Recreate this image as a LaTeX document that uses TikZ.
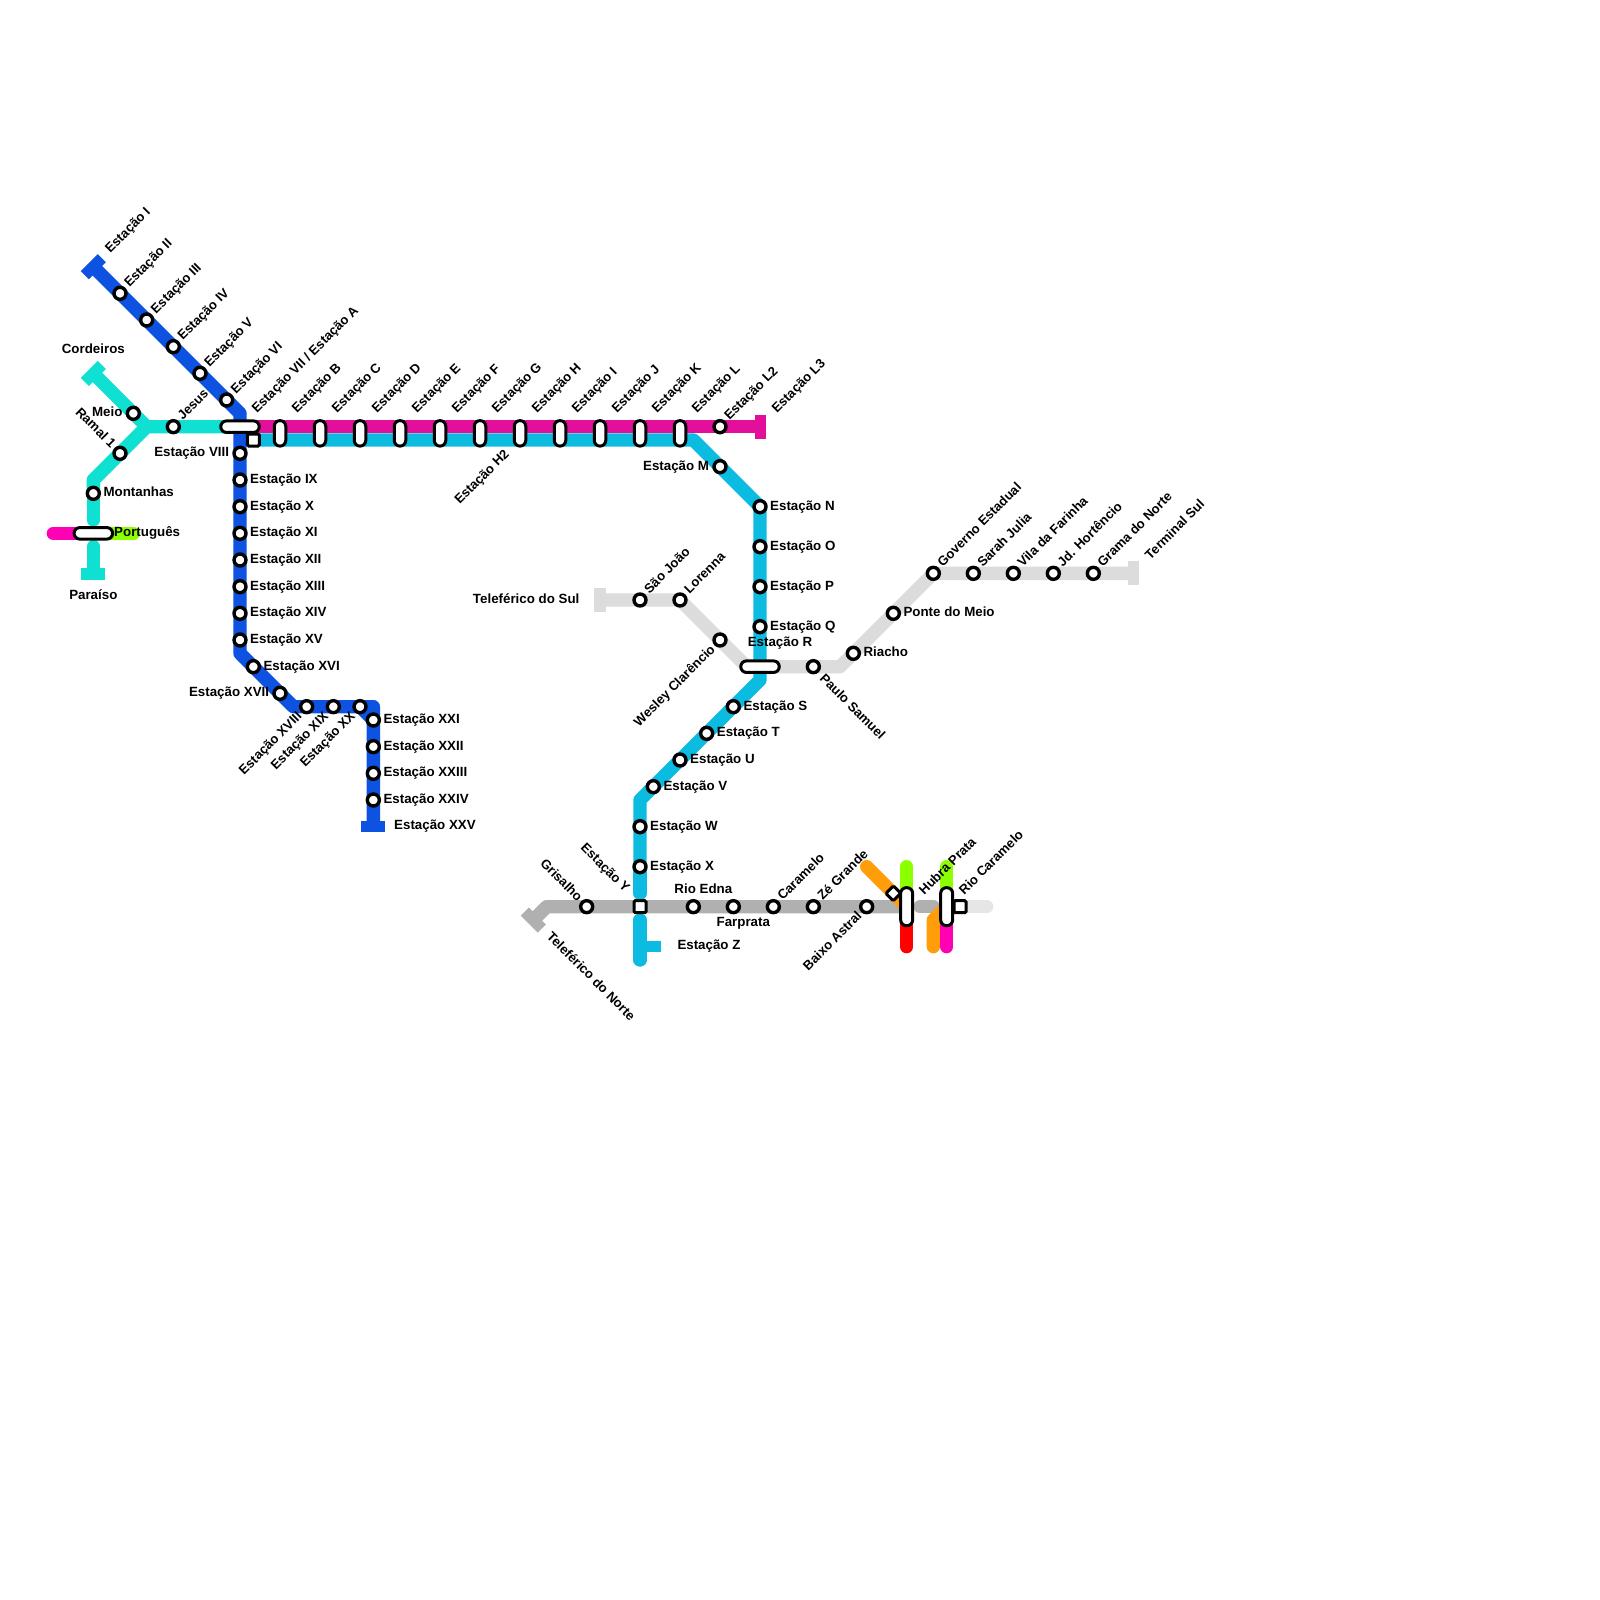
\documentclass[tikz,border=0pt]{standalone}
\usepackage{fontspec}
\setmainfont{Liberation Sans}
\definecolor{cblue}{HTML}{0D52E0}
\definecolor{cteal}{HTML}{0FE0D2}
\definecolor{cmag}{HTML}{E30F9B}
\definecolor{ccyan}{HTML}{0CBCE0}
\definecolor{cgray}{HTML}{DCDCDC}
\definecolor{cdgray}{HTML}{B0B0B0}
\definecolor{clgray}{HTML}{E6E6E6}
\definecolor{corange}{HTML}{FF9E0A}
\definecolor{cgreen}{HTML}{8CFF00}
\definecolor{cpink}{HTML}{FF00B4}
\tikzset{
 route/.style={line width=13.333pt,line join=round,line cap=butt},
 rroute/.style={route,line cap=round},
 term/.style={line width=11.5pt,line cap=butt},
 stn/.style={circle,draw=black,fill=white,line width=3.4pt,minimum size=12pt,inner sep=0pt},
 sqr/.style={rectangle,draw=black,fill=white,line width=3pt,minimum size=12pt,inner sep=0pt,rounded corners=1.3pt},
 dmd/.style={sqr,minimum size=10.5pt,rotate=45},
 hpill/.style={rectangle,draw=black,fill=white,line width=3pt,minimum width=38.5pt,minimum height=11.5pt,inner sep=0pt,rounded corners=5.7pt},
 vpill/.style={rectangle,draw=black,fill=white,line width=3pt,minimum width=11.5pt,minimum height=25.5pt,inner sep=0pt,rounded corners=5.7pt},
 tpill/.style={vpill,minimum width=12pt,minimum height=38pt},
 lbl/.style={font=\bfseries\fontsize{13.33}{15}\selectfont,text=black,inner sep=0pt,text height=9.6pt,text depth=0pt},
 rlbl/.style={lbl,font=\bfseries\fontsize{13.1}{15}\selectfont},
 lr/.style={lbl,shift={(10pt,1.3pt)},anchor=west},
 ll/.style={lbl,shift={(-10.7pt,1.3pt)},anchor=east},
 ne/.style={rlbl,shift={(6pt,9pt)},rotate=45,anchor=west},
 nefar/.style={rlbl,shift={(13.5pt,16.5pt)},rotate=45,anchor=west},
 sw/.style={rlbl,shift={(-7.5pt,-7pt)},rotate=45,anchor=east},
 nw/.style={rlbl,shift={(-6pt,8pt)},rotate=-45,anchor=east},
 se/.style={rlbl,shift={(9pt,-9pt)},rotate=-45,anchor=west},
}
\begin{document}
\begin{tikzpicture}[x=13.3333pt,y=-13.3333pt]
\useasboundingbox (0,0) rectangle (120,120);
\fill[white] (0,0) rectangle (120,120);
% named points
\foreach \n/\x/\y in {bT/7/20,b2/9/22,b3/11/24,b4/13/26,b5/15/28,b6/17/30,bc/18/31,hub/18/32,
 b8/18/34,b9/18/36,b10/18/38,b11/18/40,b12/18/42,b13/18/44,b14/18/46,b15/18/48,bd/18/49,
 b16/19/50,b17/21/52,be/22/53,b18/23/53,b19/25/53,b20/27/53,bf/28/53,b21/28/54,b22/28/56,b23/28/58,b24/28/60,bE/28/62,
 tT/7/28,tM/10/31,tJ/11/32,tS/13/32,tR/9/34,tc/7/36,tN/7/37,tA/7/39,port/7/40,tD/7/41,tH/7/42,tB/7/43,
 pL/4/40,gL/10/40,
 mE/57/32,mL/54/32,sqA/19/33,
 cA/52/33,cM/54/35,cN/57/38,cO/57/41,cP/57/44,cQ/57/47,hubR/57/50,cB/57/51,cS/55/53,cT/53/55,cU/51/57,cV/49/59,cC/48/60,cW/48/62,cX/48/65,cD/48/67,
 cE/48/69,cZ/48/71,cF/48/72,cG/49.57/71,
 gT/45/45,gJ/48/45,gLo/51/45,gW/54/48,gd/56/50,gP/61/50,gc/63/50,gRi/64/49,gPo/67/46,gGo/70/43,gSa/73/43,gVi/76/43,gJd/79/43,gGr/82/43,gE/85/43,
 dT/40/69,dc/41/68,dG/44/68,sqY/48/68,dE/52/68,dF/55/68,dC/58/68,dZ/61/68,dB/65/68,hubH/68/68,dm/69/68,dn/70/68,hubC/71/68,sqC/72/68,dq/74/68,
 oT/65/65,dia/67/67,oB/70/71,oc/70/69,
 gA/68/65,rA/68/71,gB/71/65,mB/71/71}
 {\coordinate (\n) at (\x,\y);}
\foreach \n/\x in {p21/21,p24/24,p27/27,p30/30,p33/33,p36/36,p39/39,p42/42,p45/45,p48/48,p51/51}
 {\coordinate (\n) at (\x,32.5);}
\coordinate (h2) at (39,33);
% routes
\draw[route,color=cgray] (gT)--(gJ)--(gLo)--(gW)--(gd)--(hubR)--(gP)--(gc)--(gRi)--(gPo)--(gGo)--(gSa)--(gVi)--(gJd)--(gGr)--(gE);
\draw[term,color=cgray] ([shift={(0pt,12pt)}]gT)--([shift={(0pt,-12pt)}]gT);
\draw[term,color=cgray] ([shift={(0pt,12pt)}]gE)--([shift={(0pt,-12pt)}]gE);
\draw[rroute,color=cpink] (pL)--(port);
\draw[rroute,color=cgreen] (gL)--(port);
\draw[route,color=cteal] (tT)--(tM)--(tJ)--(tS)--(hub);
\draw[route,color=cteal] (tJ)--(tR)--(tc)--(tN);
\draw[rroute,color=cteal] (tc)--(tA);
\draw[rroute,color=cteal] (tD)--(tH);
\draw[route,color=cteal] (tH)--(tB);
\draw[term,color=cteal] ([shift={(8.5pt,8.5pt)}]tT)--([shift={(-8.5pt,-8.5pt)}]tT);
\draw[term,color=cteal] ([shift={(12pt,-0.7pt)}]tB)--([shift={(-12pt,-0.7pt)}]tB);
\draw[route,color=cmag] (hub)--(mL)--(mE);
\draw[term,color=cmag] ([shift={(0.7pt,12pt)}]mE)--([shift={(0.7pt,-12pt)}]mE);
\draw[route,color=ccyan] (sqA)--(cA)--(cM)--(cN)--(cO)--(cP)--(cQ)--(hubR)--(cB)--(cS)--(cT)--(cU)--(cV)--(cC)--(cW)--(cX)--(cD);
\draw[rroute,color=ccyan] (cX)--(cD);
\draw[rroute,color=ccyan] (cE)--(cF);
\draw[term,color=ccyan] (cZ)--(cG);
\draw[route,color=cblue] (bT)--(b2)--(b3)--(b4)--(b5)--(b6)--(bc)--(hub)--(b8)--(b9)--(b10)--(b11)--(b12)--(b13)--(b14)--(b15)--(bd)--(b16)--(b17)--(be)--(bf)--(b21)--(b22)--(b23)--(b24)--(bE);
\draw[route,color=cblue] (b20)--(b21);
\draw[term,color=cblue] ([shift={(8.5pt,8.5pt)}]bT)--([shift={(-8.5pt,-8.5pt)}]bT);
\draw[term,color=cblue] ([shift={(12pt,0pt)}]bE)--([shift={(-12pt,0pt)}]bE);
\draw[route,color=cdgray] (dT)--(dc)--(dG)--(sqY)--(dE)--(dF)--(dC)--(dZ)--(dB)--(hubH);
\draw[term,color=cdgray] ([shift={(8.5pt,-8.5pt)}]dT)--([shift={(-8.5pt,8.5pt)}]dT);
\draw[rroute,color=cdgray] (dm)--(dn);
\draw[rroute,color=clgray] (hubC)--(dq);
\draw[rroute,color=corange] (oT)--(hubH);
\draw[rroute,color=corange] (oB)--(oc)--(hubC);
\draw[rroute,color=cgreen] (gA)--(hubH);
\draw[rroute,color=red] (rA)--(hubH);
\draw[rroute,color=cgreen] (gB)--(hubC);
\draw[rroute,color=cpink] (mB)--(hubC);
% interchanges
\node[hpill] (Port) at (port) {};
\node[hpill] (Hub) at (hub) {};
\node[sqr] (SqA) at (sqA) {};
\foreach \n in {p21,p24,p27,p30,p33,p36,p39,p42,p45,p48,p51} {\node[vpill] (N\n) at (\n) {};}
\node[hpill] (HubR) at (hubR) {};
\node[sqr] (SqY) at (sqY) {};
\node[dmd] (Dia) at (dia) {};
\node[sqr] (SqC) at (sqC) {};
\node[tpill] (HubH) at (hubH) {};
\node[tpill] (HubC) at (hubC) {};
% stations
\foreach \n in {b2,b3,b4,b5,b6,b8,b9,b10,b11,b12,b13,b14,b15,b16,b17,b18,b19,b20,b21,b22,b23,b24,
 tM,tS,tR,tN,mL,cM,cN,cO,cP,cQ,cS,cT,cU,cV,cW,cX,
 gJ,gLo,gW,gP,gRi,gPo,gGo,gSa,gVi,gJd,gGr,dG,dE,dF,dC,dZ,dB} {\node[stn] (N\n) at (\n) {};}
% labels
\node[nefar] (l1) at (bT) {Estação I};
\node[ne] (l2) at (b2) {Estação II};
\node[ne] (l3) at (b3) {Estação III};
\node[ne] (l4) at (b4) {Estação IV};
\node[ne] (l5) at (b5) {Estação V};
\node[ne] (l6) at (b6) {Estação VI};
\node[nefar] (l7) at (hub) {Estação VII / Estação A};
\node[ll] (l8) at (b8) {Estação VIII};
\node[lr] (l9) at (b9) {Estação IX};
\node[lr] (l10) at (b10) {Estação X};
\node[lr] (l11) at (b11) {Estação XI};
\node[lr] (l12) at (b12) {Estação XII};
\node[lr] (l13) at (b13) {Estação XIII};
\node[lr] (l14) at (b14) {Estação XIV};
\node[lr] (l15) at (b15) {Estação XV};
\node[lr] (l16) at (b16) {Estação XVI};
\node[ll] (l17) at (b17) {Estação XVII};
\node[sw] (l18) at (b18) {Estação XVIII};
\node[sw] (l19) at (b19) {Estação XIX};
\node[sw] (l20) at (b20) {Estação XX};
\node[lr] (l21) at (b21) {Estação XXI};
\node[lr] (l22) at (b22) {Estação XXII};
\node[lr] (l23) at (b23) {Estação XXIII};
\node[lr] (l24) at (b24) {Estação XXIV};
\node[lbl,shift={(20.7pt,1.7pt)},anchor=west] (l25) at (bE) {Estação XXV};
\node[lbl,shift={(0pt,25pt)}] (lCo) at (tT) {Cordeiros};
\node[ll] (lMe) at (tM) {Meio};
\node[ne] (lJe) at (tS) {Jesus};
\node[nw] (lRa) at (tR) {Ramal 1};
\node[lr] (lMo) at (tN) {Montanhas};
\node[lbl,shift={(20.7pt,1.7pt)},anchor=west] (lPo) at (port) {Português};
\node[lbl,shift={(0pt,-21.7pt)}] (lPa) at (tB) {Paraíso};
\foreach \n/\t in {p21/B,p24/C,p27/D,p30/E,p33/F,p36/G,p39/H,p42/I,p45/J,p48/K,p51/L}
 {\node[shift={(0pt,6.7pt)},nefar] (L\n) at (\n) {Estação \t};}
\node[rlbl,shift={(-13.5pt,-11.5pt)},rotate=45,anchor=east] (lH2) at (h2) {Estação H2};
\node[ne] (lL2) at (mL) {Estação L2};
\node[nefar] (lL3) at (mE) {Estação L3};
\node[ll] (lM) at (cM) {Estação M};
\node[lr] (lN) at (cN) {Estação N};
\node[lr] (lO) at (cO) {Estação O};
\node[lr] (lP) at (cP) {Estação P};
\node[lr] (lQ) at (cQ) {Estação Q};
\node[lbl,shift={(20pt,25pt)}] (lR) at (hubR) {Estação R};
\node[lr] (lS) at (cS) {Estação S};
\node[lr] (lT) at (cT) {Estação T};
\node[lr] (lU) at (cU) {Estação U};
\node[lr] (lV) at (cV) {Estação V};
\node[lr] (lW) at (cW) {Estação W};
\node[lr] (lX) at (cX) {Estação X};
\node[shift={(-6pt,9pt)},nw] (lY) at (sqY) {Estação Y};
\node[lbl,shift={(37.3pt,1.7pt)},anchor=west] (lZ) at (cZ) {Estação Z};
\node[lbl,shift={(-20.4pt,1pt)},anchor=east] (lTS) at (gT) {Teleférico do Sul};
\node[ne] (lJo) at (gJ) {São João};
\node[ne] (lLo) at (gLo) {Lorenna};
\node[sw] (lWe) at (gW) {Wesley Clarêncio};
\node[se] (lPS) at (gP) {Paulo Samuel};
\node[lr] (lRi) at (gRi) {Riacho};
\node[lr] (lPM) at (gPo) {Ponte do Meio};
\node[ne] (lGo) at (gGo) {Governo Estadual};
\node[ne] (lSa) at (gSa) {Sarah Julia};
\node[ne] (lVi) at (gVi) {Vila da Farinha};
\node[ne] (lJd) at (gJd) {Jd. Hortêncio};
\node[ne] (lGr) at (gGr) {Grama do Norte};
\node[nefar] (lTe) at (gE) {Terminal Sul};
\node[shift={(7pt,-5pt)},se] (lTN) at (dT) {Teleférico do Norte};
\node[nw] (lGr2) at (dG) {Grisalho};
\node[lbl,shift={(10pt,18.4pt)}] (lEd) at (dE) {Rio Edna};
\node[lbl,shift={(10pt,-15pt)}] (lFa) at (dF) {Farprata};
\node[ne] (lCa) at (dC) {Caramelo};
\node[ne] (lZe) at (dZ) {Zé Grande};
\node[sw] (lBa) at (dB) {Baixo Astral};
\node[shift={(0.6pt,-2pt)},nefar] (lHu) at (hubH) {Hubra Prata};
\node[shift={(0.6pt,-2pt)},nefar] (lRC) at (hubC) {Rio Caramelo};
\end{tikzpicture}
\end{document}
